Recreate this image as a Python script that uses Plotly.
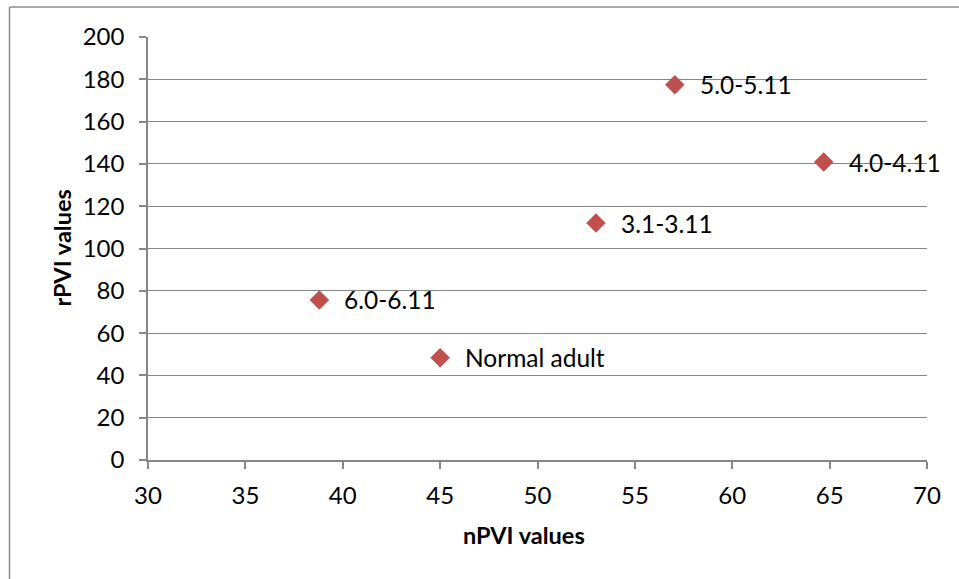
import plotly.graph_objects as go

labels = ["5.0-5.11", "4.0-4.11", "3.1-3.11", "6.0-6.11", "Normal adult"]
npvi = [57.05, 64.7, 53.0, 38.8, 45.0]
rpvi = [177.4, 140.9, 112.0, 75.7, 48.4]
x_title = "nPVI values"
y_title = "rPVI values"

FONT = "Lato, Calibri, sans-serif"
GRID = "#868686"

fig = go.Figure()
fig.add_trace(go.Scatter(
    x=npvi, y=rpvi, mode="markers",
    marker=dict(symbol="diamond", size=15, color="#C0504D",
                line=dict(width=0)),
    showlegend=False, hoverinfo="x+y",
))

for lab, xv, yv in zip(labels, npvi, rpvi):
    fig.add_annotation(x=xv, y=yv, text=lab, showarrow=False,
                       xanchor="left", yanchor="middle", xshift=23,
                       font=dict(family=FONT, size=24.5, color="#000000"))

L, R, T, B = 148, 32, 37, 119
W, H = 959, 579
pw, ph = W - L - R, H - T - B
bx = (9.5 - L) / pw
by = 1 + (T - 7) / ph
fig.add_shape(type="line", xref="paper", yref="paper", x0=bx, x1=bx, y0=-1, y1=by,
              line=dict(color="#8c8c8c", width=1.5))
fig.add_shape(type="line", xref="paper", yref="paper", x0=bx, x1=1.2, y0=by, y1=by,
              line=dict(color="#8c8c8c", width=1.5))

# axis titles
fig.add_annotation(xref="paper", yref="paper", x=(524 - L) / pw, y=-(535 - (T + ph)) / ph,
                   text="<b>" + x_title + "</b>", showarrow=False,
                   xanchor="center", yanchor="middle",
                   font=dict(family=FONT, size=23.5, color="#000000"))
fig.add_annotation(xref="paper", yref="paper", x=(61.5 - L) / pw, y=1 - (248 - T) / ph,
                   text="<b>" + y_title + "</b>", showarrow=False, textangle=-90,
                   xanchor="center", yanchor="middle",
                   font=dict(family=FONT, size=23.5, color="#000000"))

fig.update_layout(
    width=W, height=H,
    margin=dict(l=L, r=R, t=T, b=B),
    paper_bgcolor="white", plot_bgcolor="white",
    font=dict(family=FONT, size=24, color="#000000"),
    xaxis=dict(range=[30, 70], dtick=5, tick0=30, showgrid=False,
               showline=True, linecolor=GRID, linewidth=1.5,
               ticks="outside", ticklen=7, tickcolor=GRID, tickwidth=1.5,
               zeroline=False, ticklabelstandoff=6),
    yaxis=dict(range=[0, 200], dtick=20, tick0=0, showgrid=True,
               gridcolor=GRID, gridwidth=1.4,
               showline=True, linecolor=GRID, linewidth=1.5,
               ticks="outside", ticklen=7, tickcolor=GRID, tickwidth=1.5,
               zeroline=False, ticklabelstandoff=10),
)

fig.write_html("out.html")
